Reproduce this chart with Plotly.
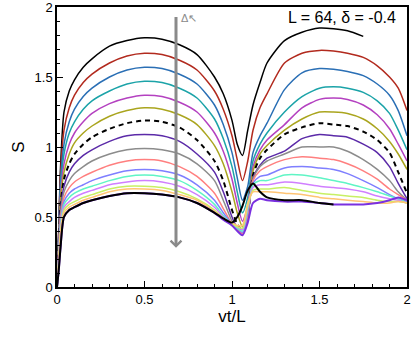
import plotly.graph_objects as go

# sample positions along vt/L
vt_L = [0, 0.01, 0.02, 0.04, 0.07, 0.1, 0.15, 0.2, 0.3, 0.4, 0.5, 0.6, 0.7, 0.8, 0.9, 0.95,
        1.0, 1.03, 1.06, 1.09, 1.12, 1.16, 1.2,
        1.3, 1.4, 1.5, 1.58, 1.66, 1.75, 1.83, 1.9, 1.95, 2.0]

# S(vt/L) curves, top to bottom
s_black = [0, 0.42, 0.85, 1.25, 1.4, 1.48, 1.57, 1.63, 1.72, 1.76, 1.78, 1.77, 1.73, 1.66, 1.5, 1.38,
           1.19, 1.02, 0.94, 1.12, 1.3, 1.46, 1.6,
           1.76, 1.82, 1.85, 1.845, 1.83, 1.79, None, None, None, None]
s_red = [0, 0.4, 0.8, 1.12, 1.28, 1.37, 1.46, 1.52, 1.6, 1.65, 1.67, 1.66, 1.62, 1.55, 1.4, 1.27,
         1.08, 0.91, 0.76, 0.9, 1.12, 1.28, 1.38,
         1.6, 1.67, 1.69, 1.685, 1.67, 1.64, 1.58, 1.5, 1.42, 1.26]
s_blue = [0, 0.38, 0.75, 1.02, 1.18, 1.27, 1.36, 1.42, 1.5, 1.55, 1.57, 1.56, 1.52, 1.45, 1.3, 1.16,
          0.96, 0.78, 0.62, 0.72, 0.96, 1.08, 1.17,
          1.41, 1.53, 1.56, 1.555, 1.54, 1.51, 1.45, 1.37, 1.26, 1.08]
s_teal = [0, 0.36, 0.7, 0.95, 1.1, 1.18, 1.27, 1.33, 1.4, 1.45, 1.47, 1.46, 1.42, 1.35, 1.2, 1.06,
          0.86, 0.68, 0.53, 0.64, 0.9, 1.02, 1.1,
          1.25, 1.36, 1.42, 1.43, 1.42, 1.39, 1.33, 1.24, 1.12, 0.98]
s_magenta = [0, 0.34, 0.66, 0.88, 1.02, 1.1, 1.18, 1.24, 1.31, 1.35, 1.37, 1.36, 1.32, 1.25, 1.1, 0.97,
             0.77, 0.6, 0.47, 0.58, 0.86, 0.98, 1.05,
             1.16, 1.28, 1.34, 1.35, 1.34, 1.3, 1.23, 1.13, 1.02, 0.9]
s_olive = [0, 0.32, 0.62, 0.82, 0.95, 1.03, 1.1, 1.15, 1.22, 1.26, 1.28, 1.27, 1.23, 1.16, 1.01, 0.88,
           0.68, 0.53, 0.43, 0.54, 0.83, 0.95, 1.01,
           1.12, 1.2, 1.25, 1.25, 1.24, 1.2, 1.13, 1.04, 0.95, 0.84]
s_dashed = [0, 0.3, 0.58, 0.77, 0.88, 0.95, 1.02, 1.07, 1.13, 1.17, 1.19, 1.18, 1.14, 1.05, 0.9, 0.76,
            0.55, 0.45, 0.4, 0.51, 0.8, 0.92, 0.98,
            1.09, 1.14, 1.17, 1.16, 1.15, 1.11, 1.05, 0.96, 0.82, 0.67]
s_purple = [0, 0.28, 0.55, 0.72, 0.82, 0.88, 0.94, 0.98, 1.04, 1.08, 1.09, 1.08, 1.04, 0.95, 0.82, 0.68,
            0.5, 0.42, 0.38, 0.5, 0.78, 0.87, 0.92,
            0.97, 1.06, 1.09, 1.08, 1.07, 1.02, 0.96, 0.86, 0.74, 0.63]
s_gray = [0, 0.26, 0.52, 0.68, 0.76, 0.81, 0.86, 0.9, 0.95, 0.98, 0.99, 0.98, 0.95, 0.88, 0.76, 0.62,
          0.47, 0.41, 0.37, 0.5, 0.77, 0.86, 0.9,
          0.95, 1.0, 1.0, 1.0, 0.97, 0.91, 0.84, 0.76, 0.68, 0.62]
s_salmon = [0, 0.24, 0.49, 0.64, 0.71, 0.75, 0.79, 0.82, 0.87, 0.9, 0.91, 0.9, 0.86, 0.79, 0.67, 0.56,
            0.45, 0.41, 0.38, 0.52, 0.76, 0.83, 0.86,
            0.91, 0.93, 0.92, 0.91, 0.88, 0.83, 0.77, 0.7, 0.66, 0.62]
s_cornflower = [0, 0.22, 0.46, 0.61, 0.67, 0.7, 0.73, 0.76, 0.8, 0.83, 0.84, 0.83, 0.8, 0.73, 0.62, 0.53,
                0.45, 0.42, 0.39, 0.54, 0.74, 0.79, 0.8,
                0.85, 0.86, 0.85, 0.84, 0.81, 0.76, 0.71, 0.66, 0.63, 0.61]
s_aqua = [0, 0.21, 0.44, 0.59, 0.64, 0.67, 0.7, 0.72, 0.76, 0.79, 0.8, 0.79, 0.76, 0.69, 0.59, 0.51,
          0.45, 0.42, 0.4, 0.56, 0.73, 0.76, 0.76,
          0.8, 0.8, 0.78, 0.76, 0.74, 0.71, 0.68, 0.65, 0.63, 0.6]
s_violet = [0, 0.2, 0.42, 0.57, 0.61, 0.64, 0.67, 0.69, 0.73, 0.75, 0.76, 0.75, 0.72, 0.66, 0.57, 0.5,
            0.45, 0.43, 0.41, 0.57, 0.71, 0.73, 0.73,
            0.75, 0.74, 0.72, 0.71, 0.7, 0.68, 0.65, 0.63, 0.62, 0.6]
s_ygreen = [0, 0.19, 0.4, 0.55, 0.59, 0.61, 0.64, 0.66, 0.7, 0.72, 0.72, 0.71, 0.68, 0.63, 0.55, 0.49,
            0.45, 0.43, 0.42, 0.58, 0.69, 0.7, 0.7,
            0.71, 0.69, 0.67, 0.66, 0.65, 0.64, 0.62, 0.61, 0.61, 0.6]
s_orange = [0, 0.18, 0.38, 0.53, 0.57, 0.59, 0.62, 0.64, 0.68, 0.7, 0.7, 0.69, 0.66, 0.62, 0.54, 0.49,
            0.46, 0.44, 0.44, 0.6, 0.68, 0.68, 0.68,
            0.67, 0.66, 0.64, 0.63, 0.62, 0.61, 0.6, 0.6, 0.61, 0.6]
s_low_purple = [0, 0.12, 0.28, 0.5, 0.55, 0.57, 0.6, 0.62, 0.65, 0.67, 0.67, 0.66, 0.64, 0.6, 0.53, 0.48,
                0.44, 0.4, 0.37, 0.46, 0.6, 0.63, 0.62,
                0.61, 0.61, 0.6, 0.59, 0.59, 0.59, 0.6, 0.62, 0.64, 0.62]
s_low_black = [0, 0.12, 0.28, 0.5, 0.55, 0.57, 0.6, 0.62, 0.65, 0.67, 0.67, 0.66, 0.64, 0.6, 0.53, 0.49,
               0.46, 0.5, 0.58, 0.69, 0.74, 0.68, 0.64,
               0.62, 0.62, 0.6, 0.59, None, None, None, None, None, None]

curves = [
    (s_black, "#000000", "solid", 1.5),
    (s_red, "#b22a1e", "solid", 1.5),
    (s_blue, "#2a6fb5", "solid", 1.5),
    (s_teal, "#1ba3a8", "solid", 1.5),
    (s_magenta, "#b441c0", "solid", 1.5),
    (s_olive, "#aaa51e", "solid", 1.5),
    (s_dashed, "#000000", "5px,4px", 2),
    (s_purple, "#5b2aa8", "solid", 1.5),
    (s_gray, "#8c8c8c", "solid", 1.5),
    (s_salmon, "#ff7f7f", "solid", 1.5),
    (s_cornflower, "#7f7fff", "solid", 1.5),
    (s_aqua, "#5ff5c5", "solid", 1.5),
    (s_violet, "#d07fff", "solid", 1.5),
    (s_ygreen, "#c8f064", "solid", 1.5),
    (s_orange, "#ffc473", "solid", 1.5),
    (s_low_purple, "#7a30e0", "solid", 2),
    (s_low_black, "#000000", "solid", 2),
]

fig = go.Figure()
for ys, color, dash, width in curves:
    fig.add_trace(go.Scatter(x=vt_L, y=ys, mode="lines",
                             line=dict(color=color, dash=dash, width=width, shape="spline", smoothing=0.7),
                             showlegend=False, hoverinfo="skip"))

# gray arrow marking increasing Delta
fig.add_annotation(x=0.68, y=0.28, ax=0.68, ay=1.94, xref="x", yref="y", axref="x", ayref="y",
                   text="", showarrow=True, arrowhead=4, arrowsize=0.7, arrowwidth=3, arrowcolor="#8a8a8a")
fig.add_annotation(x=0.695, y=1.92, xref="x", yref="y", text="Δ↖", showarrow=False,
                   xanchor="left", yanchor="middle", font=dict(size=11, color="#8a8a8a"))
fig.add_annotation(x=0.975, y=0.962, xref="paper", yref="paper", text="L = 64, δ = -0.4",
                   showarrow=False, xanchor="right", yanchor="middle", font=dict(size=16, color="black"))

axis_style = dict(showline=True, linecolor="black", linewidth=1.5, mirror=True,
                  ticks="inside", ticklen=6, tickwidth=1.2, tickcolor="black",
                  showgrid=False, zeroline=False, dtick=0.5, automargin=False,
                  ticklabeloverflow="allow",
                  minor=dict(ticks="inside", ticklen=3, dtick=0.1, tickcolor="black", showgrid=False),
                  tickfont=dict(size=13, color="black"))

fig.update_xaxes(range=[0, 2], title=dict(text="vt/L", font=dict(size=17), standoff=3), **axis_style)
fig.update_yaxes(range=[0, 2], title=dict(text="S", font=dict(size=17), standoff=6), **axis_style)

fig.update_layout(width=415, height=344, margin=dict(l=57, r=8, t=7, b=57, autoexpand=False),
                  plot_bgcolor="white", paper_bgcolor="white",
                  font=dict(family="Liberation Sans, Arial, sans-serif", color="black"))

# page body has a default 8px margin; drop it so the figure sits at the window corner
fig.write_html("out.html", config={"displayModeBar": False},
               post_script="document.body.style.margin='0';")
